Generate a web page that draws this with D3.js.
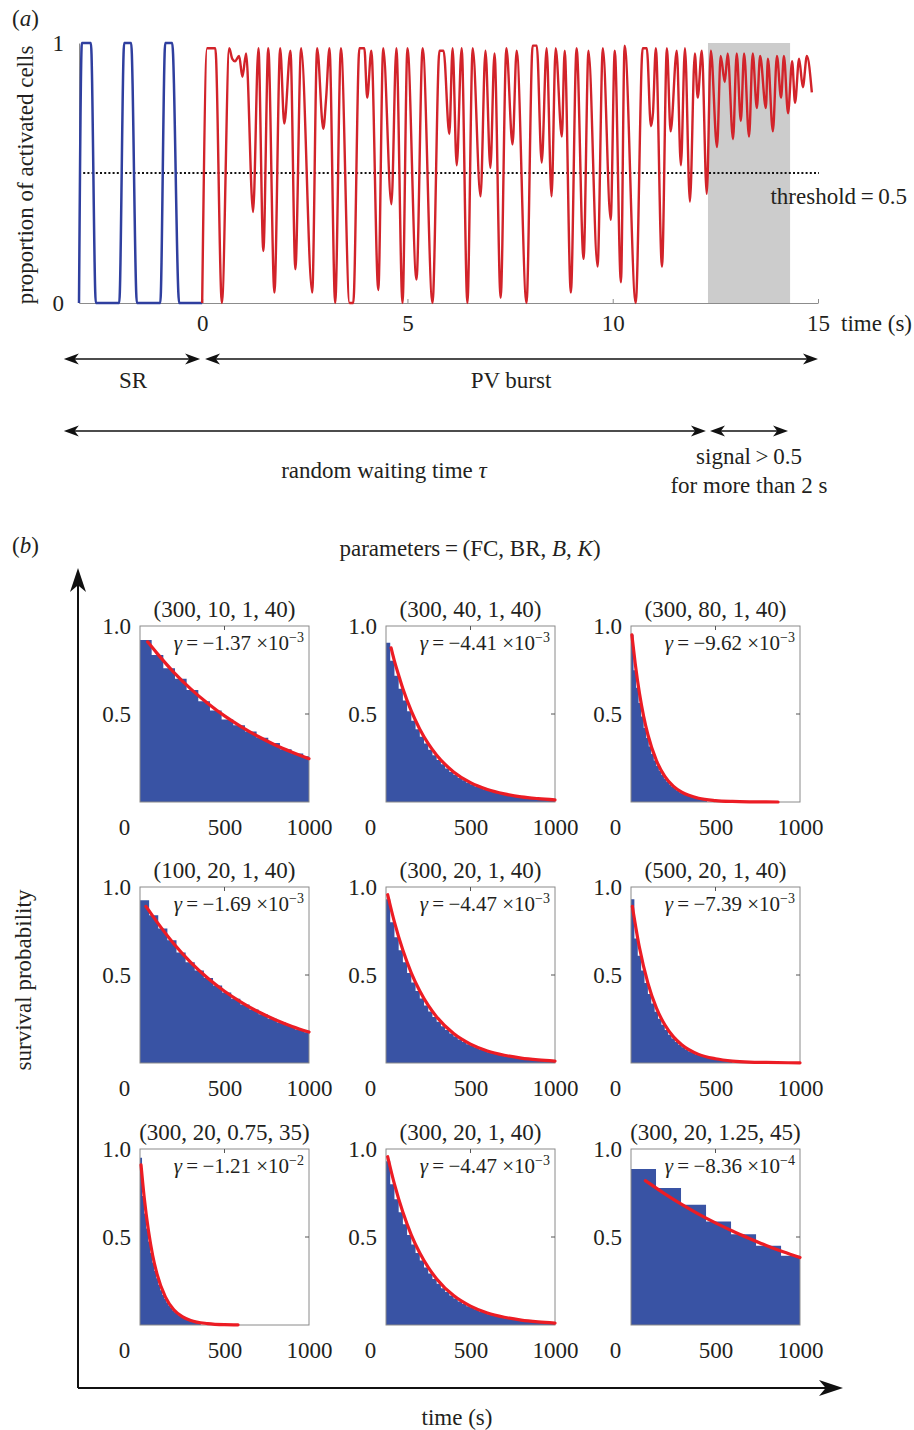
<!DOCTYPE html>
<html>
<head>
<meta charset="utf-8">
<script src="https://d3js.org/d3.v7.min.js"></script>
<style>
body { margin: 0; background: #fff; }
text { font-family: "Liberation Serif", "DejaVu Serif", serif; fill: #231f20; }
</style>
</head>
<body>
<script>
// ---- panel (a) data : proportion of activated cells over time (s) ----
var srTime  = [-3.0, -2.93, -2.71, -2.59, -2.02, -1.90, -1.73, -1.59, -1.02, -0.90, -0.73, -0.56, 0];
var srValue = [0, 1, 1, 0, 0, 1, 1, 0, 0, 1, 1, 0, 0];

var pvTime = [0, 0.12, 0.32, 0.48, 0.66, 0.73, 0.80, 0.90, 0.98, 1.07,
  1.24, 1.37, 1.49, 1.61, 1.76, 1.90, 2.00, 2.15, 2.27, 2.41,
  2.68, 2.80, 2.95, 3.02, 3.10, 3.24, 3.38, 3.59, 3.68, 3.83,
  3.95, 4.02, 4.12, 4.29, 4.41, 4.61, 4.73, 4.88, 5.00, 5.22,
  5.37, 5.61, 5.78, 5.88, 6.02, 6.10, 6.20, 6.32, 6.46, 6.59,
  6.78, 6.90, 7.02, 7.12, 7.27, 7.41, 7.56, 7.66, 7.90, 8.05,
  8.15, 8.27, 8.39, 8.51, 8.61, 8.76, 8.83, 8.98, 9.12, 9.29,
  9.41, 9.63, 9.76, 9.95, 10.05, 10.20, 10.29, 10.56, 10.73, 10.83,
  10.93, 10.98, 11.05, 11.20, 11.32, 11.41, 11.56, 11.66, 11.76, 11.88,
  12.00, 12.07, 12.17, 12.29, 12.39, 12.54, 12.63, 12.73, 12.80, 12.93,
  13.02, 13.12, 13.20, 13.32, 13.41, 13.51, 13.59, 13.73, 13.78, 13.90,
  14.00, 14.10, 14.17, 14.27, 14.37, 14.44, 14.54, 14.63, 14.73, 14.85];
var pvValue = [0, .98, .98, 0, .98, .94, .93, .95, .87, .96,
  .35, .98, .20, .98, .04, .98, .69, .97, .13, .98,
  .04, .98, .67, .79, .98, 0, .98, 0, 0, .98,
  .98, .79, .97, .05, .98, .38, .98, 0, .98, .09,
  .98, 0, .97, .97, .65, .98, .53, .98, 0, .98,
  .41, .97, .52, .96, .02, .98, .61, .97, 0, .99,
  .99, .54, .98, .41, .98, .64, .97, .04, .98, .17,
  .97, .14, .98, .32, .97, .08, .99, 0, .98, .98,
  .68, .73, .98, .14, .98, .66, .97, .53, .98, .39,
  .96, .79, .97, .42, .97, .60, .95, .85, .96, .63,
  .96, .70, .96, .64, .96, .75, .95, .75, .94, .66,
  .95, .79, .95, .73, .93, .77, .94, .83, .95, .81];

var xTicksA = [0, 5, 10, 15];
var yTicksA = [0, 1];
var threshold = 0.5;
var signalWindow = [12.32, 14.32];
// annotation arrows, in seconds
var phaseArrows = [[-3.37, -0.05, "SR"], [0.07, 15.0, "PV burst"]];
var waitArrows = [[-3.37, 12.27], [12.37, 14.27]];

// ---- panel (b) data : survival probability vs time (s) ----
var paramLabels = ["(300, 10, 1, 40)", "(300, 40, 1, 40)", "(300, 80, 1, 40)",
                   "(100, 20, 1, 40)", "(300, 20, 1, 40)", "(500, 20, 1, 40)",
                   "(300, 20, 0.75, 35)", "(300, 20, 1, 40)", "(300, 20, 1.25, 45)"];
var gammaMant = ["\u22121.37", "\u22124.41", "\u22129.62", "\u22121.69", "\u22124.47", "\u22127.39", "\u22121.21", "\u22124.47", "\u22128.36"];
var gammaExp = ["\u22123", "\u22123", "\u22123", "\u22123", "\u22123", "\u22123", "\u22122", "\u22123", "\u22124"];
var binWidths = [69, 25, 15, 54, 25, 20, 12, 25, 148];
var xTicksB = [0, 500, 1000];
var yTicksB = [0.5, 1];

var bars1 = [0.92, 0.835, 0.76, 0.70, 0.636, 0.573, 0.52, 0.469, 0.436, 0.40, 0.365, 0.335, 0.30, 0.275, 0.26];
var bars2 = [0.905, .802, .718, .643, .576, .516, .462, .414, .371, .332, .297, .266, .238, .214, .191, .171, .153, .137, .123, .110,
             .099, .088, .079, .071, .064, .057, .051, .046, .041, .037, .033, .029, .026, .024, .021, .019, .017, .015, .014, .012];
var bars3 = [0.95, .749, .649, .562, .486, .421, .364, .315, .273, .236, .204, .177, .153, .132, .115,
             .099, .086, .074, .064, .056, .048, .042, .036, .031, .027, .024, .020, .018, .015, .013];
var bars4 = [0.925, 0.84, 0.764, 0.698, 0.628, 0.572, 0.525, 0.483, 0.44, 0.40, 0.365, 0.333, 0.304, 0.277, 0.252, 0.23, 0.21, 0.19, 0.175];
var bars5 = [0.93, .80, .715, .64, .572, .511, .457, .409, .366, .327, .293, .262, .234, .209, .187, .167, .150, .134, .120, .107,
             .096, .086, .077, .068, .061, .055, .049, .044, .039, .035, .031, .028, .025, .022, .020, .018, .016, .014, .013, .011];
var bars6 = [0.93, .707, .61, .526, .454, .392, .338, .291, .251, .217, .187, .161, .139, .12, .104,
             .089, .077, .066, .057, .049, .042, .037, .032, .027, .024, .020, .018, .015, .013, .011];
var bars7 = [0.95, .733, .634, .549, .474, .41, .355, .307, .265, .229, .198, .171, .148, .128, .111,
             .096, .083, .073, .063, .054, .047, .041, .035, .030, .026, .022, .019, .017, .015, .013];
var bars8 = bars5;
var bars9 = [0.886, 0.778, 0.683, 0.588, 0.516, 0.45, 0.393];

var fit1 = [[45, 0.91], [100, 0.846], [200, 0.737], [300, 0.643], [400, 0.561], [500, 0.489], [600, 0.427], [700, 0.372], [800, 0.324], [900, 0.283], [1000, 0.246]];
var fit2 = [[30, 0.876], [50, 0.80], [75, 0.72], [100, 0.643], [150, 0.516], [200, 0.414], [250, 0.332], [300, 0.266], [400, 0.171], [500, 0.110], [600, 0.071], [700, 0.046], [800, 0.029], [900, 0.019], [1000, 0.012]];
var fit3 = [[5, 0.95], [25, 0.786], [50, 0.618], [75, 0.486], [100, 0.382], [150, 0.236], [200, 0.146], [250, 0.09], [300, 0.056], [400, 0.021], [500, 0.008], [600, 0.003], [700, 0.001], [870, 0.0]];
var fit4 = [[35, 0.89], [100, 0.802], [200, 0.678], [300, 0.572], [400, 0.483], [500, 0.408], [600, 0.345], [700, 0.291], [800, 0.246], [900, 0.208], [1000, 0.176]];
var fit5 = [[10, 0.956], [50, 0.80], [100, 0.64], [150, 0.511], [200, 0.409], [250, 0.327], [300, 0.262], [400, 0.167], [500, 0.107], [600, 0.068], [700, 0.044], [800, 0.028], [900, 0.018], [1000, 0.011]];
var fit6 = [[8, 0.89], [50, 0.656], [100, 0.454], [150, 0.313], [200, 0.217], [250, 0.15], [300, 0.104], [400, 0.049], [500, 0.024], [600, 0.011], [700, 0.005], [800, 0.003], [1000, 0.001]];
var fit7 = [[6, 0.91], [25, 0.724], [50, 0.535], [75, 0.395], [100, 0.292], [150, 0.16], [200, 0.087], [250, 0.048], [300, 0.026], [400, 0.008], [500, 0.002], [580, 0.001]];
var fit8 = fit5;
var fit9 = [[85, 0.82], [200, 0.745], [300, 0.685], [400, 0.63], [500, 0.58], [600, 0.534], [700, 0.492], [800, 0.452], [900, 0.416], [1000, 0.383]];

var barSets = [bars1, bars2, bars3, bars4, bars5, bars6, bars7, bars8, bars9];
var fitSets = [fit1, fit2, fit3, fit4, fit5, fit6, fit7, fit8, fit9];

var width = 914, height = 1430;
var svg = d3.select("body").append("svg")
  .attr("width", width)
  .attr("height", height);

function arrowHead(x, y, angle, len, half) {
  svg.append("path")
    .attr("d", "M0,0L" + (-len) + "," + (-half) + "L" + (-0.72 * len) + ",0L" + (-len) + "," + half + "Z")
    .attr("transform", "translate(" + x + "," + y + ") rotate(" + angle + ")")
    .attr("fill", "#111");
}

function doubleArrow(x1, x2, y) {
  svg.append("line")
    .attr("x1", x1 + 6).attr("x2", x2 - 6).attr("y1", y).attr("y2", y)
    .attr("stroke", "#111").attr("stroke-width", 1.3);
  arrowHead(x1, y, 180, 15, 5.5);
  arrowHead(x2, y, 0, 15, 5.5);
}

// ================= panel (a) =================
var xA = d3.scaleLinear().domain([-3, 15]).range([79, 818]);
var yA = d3.scaleLinear().domain([0, 1]).range([303, 43]);

svg.append("rect")
  .attr("x", xA(signalWindow[0]))
  .attr("y", yA(1))
  .attr("width", xA(signalWindow[1]) - xA(signalWindow[0]))
  .attr("height", yA(0) - yA(1))
  .attr("fill", "#cccccc");

var axA = svg.append("g")
  .attr("transform", "translate(0," + yA(0) + ")")
  .call(d3.axisBottom(xA).tickValues(xTicksA).tickFormat(d3.format("d")).tickSize(-4).tickSizeOuter(0).tickPadding(12));
axA.attr("font-size", 23).attr("font-family", null);
axA.select(".domain").attr("stroke", "#8c8c8c");
axA.selectAll(".tick line").attr("stroke", "#8c8c8c");

var ayA = svg.append("g")
  .attr("transform", "translate(" + xA(-3) + ",0)")
  .call(d3.axisLeft(yA).tickValues(yTicksA).tickFormat(d3.format("d")).tickSize(0).tickSizeOuter(0).tickPadding(15));
ayA.attr("font-size", 23).attr("font-family", null);
ayA.select(".domain").attr("stroke", "#8c8c8c");

svg.append("line")
  .attr("x1", xA(-3)).attr("x2", xA(15) + 1)
  .attr("y1", yA(threshold)).attr("y2", yA(threshold))
  .attr("stroke", "#111").attr("stroke-width", 2)
  .attr("stroke-dasharray", "2,2.2");

var lineA = d3.line()
  .x(function(d) { return xA(d[0]); })
  .y(function(d) { return yA(d[1]); })
  .curve(d3.curveMonotoneX);

svg.append("path")
  .attr("d", lineA(d3.zip(srTime, srValue)))
  .attr("fill", "none").attr("stroke", "#2f3f9f").attr("stroke-width", 2.5);

svg.append("path")
  .attr("d", lineA(d3.zip(pvTime, pvValue)))
  .attr("fill", "none").attr("stroke", "#d2232a").attr("stroke-width", 2.4)
  .attr("stroke-linejoin", "round");

svg.append("text").attr("x", 12).attr("y", 26).attr("font-size", 23)
  .html("(<tspan font-style='italic'>a</tspan>)");

svg.append("text")
  .attr("transform", "translate(33,175) rotate(-90)")
  .attr("text-anchor", "middle").attr("font-size", 23)
  .text("proportion of activated cells");

svg.append("text").attr("x", 907).attr("y", 204).attr("text-anchor", "end").attr("font-size", 23)
  .text("threshold\u2009=\u20090.5");

svg.append("text").attr("x", 912).attr("y", 331).attr("text-anchor", "end").attr("font-size", 23)
  .text("time (s)");

// arrows under panel (a)
phaseArrows.forEach(function(a) {
  doubleArrow(xA(a[0]), xA(a[1]), 359);
});
svg.append("text").attr("x", 133).attr("y", 388).attr("text-anchor", "middle").attr("font-size", 23).text(phaseArrows[0][2]);
svg.append("text").attr("x", 511).attr("y", 388).attr("text-anchor", "middle").attr("font-size", 23).text(phaseArrows[1][2]);

waitArrows.forEach(function(a) {
  doubleArrow(xA(a[0]), xA(a[1]), 431);
});
svg.append("text").attr("x", 384).attr("y", 478).attr("text-anchor", "middle").attr("font-size", 23)
  .html("random waiting time <tspan font-style='italic'>\u03c4</tspan>");
svg.append("text").attr("x", 749).attr("y", 464).attr("text-anchor", "middle").attr("font-size", 23)
  .text("signal\u2009>\u20090.5");
svg.append("text").attr("x", 749).attr("y", 493).attr("text-anchor", "middle").attr("font-size", 23)
  .text("for more than 2 s");

// ================= panel (b) =================
svg.append("text").attr("x", 12).attr("y", 553).attr("font-size", 23)
  .html("(<tspan font-style='italic'>b</tspan>)");
svg.append("text").attr("x", 470).attr("y", 556).attr("text-anchor", "middle").attr("font-size", 23)
  .html("parameters\u2009=\u2009(FC, BR, <tspan font-style='italic'>B</tspan>, <tspan font-style='italic'>K</tspan>)");

// big axes
svg.append("line").attr("x1", 78).attr("x2", 78).attr("y1", 1388).attr("y2", 580)
  .attr("stroke", "#111").attr("stroke-width", 2);
arrowHead(78, 568, -90, 24, 8);
svg.append("line").attr("x1", 78).attr("x2", 830).attr("y1", 1388).attr("y2", 1388)
  .attr("stroke", "#111").attr("stroke-width", 2);
arrowHead(843, 1388, 0, 24, 8);

svg.append("text")
  .attr("transform", "translate(31,980) rotate(-90)")
  .attr("text-anchor", "middle").attr("font-size", 23)
  .text("survival probability");
svg.append("text").attr("x", 457).attr("y", 1425).attr("text-anchor", "middle").attr("font-size", 23)
  .text("time (s)");

var colX = [140, 386, 631];
var rowY = [626, 887, 1149];
var pw = 169, ph = 176;

for (var i = 0; i < 9; i++) {
  var x0 = colX[i % 3];
  var y0 = rowY[Math.floor(i / 3)];
  var bars = barSets[i];
  var bin = binWidths[i];

  var xs = d3.scaleLinear().domain([0, 1000]).range([x0, x0 + pw]);
  var ys = d3.scaleLinear().domain([0, 1]).range([y0 + ph, y0]);

  var g = svg.append("g");

  // histogram of survival, drawn as one stepped area (no seams between bins)
  var steps = bars.map(function(d, k) { return [k * bin, d]; });
  steps.push([Math.min(bars.length * bin, 1000), bars[bars.length - 1]]);
  var stepArea = d3.area()
    .x(function(d) { return xs(Math.min(d[0], 1000)); })
    .y0(ys(0))
    .y1(function(d) { return ys(d[1]); })
    .curve(d3.curveStepAfter);
  g.append("path")
    .attr("d", stepArea(steps))
    .attr("fill", "#3953a4");

  // frame
  g.append("rect")
    .attr("x", x0).attr("y", y0).attr("width", pw).attr("height", ph)
    .attr("fill", "none").attr("stroke", "#8a8a8a").attr("stroke-width", 1);
  g.append("line")
    .attr("x1", xs(500)).attr("x2", xs(500)).attr("y1", y0).attr("y2", y0 + 4)
    .attr("stroke", "#555");
  g.append("line")
    .attr("x1", x0 + pw).attr("x2", x0 + pw - 4).attr("y1", ys(0.5)).attr("y2", ys(0.5))
    .attr("stroke", "#555");

  // exponential fit
  var fitLine = d3.line()
    .x(function(d) { return xs(d[0]); })
    .y(function(d) { return ys(d[1]); })
    .curve(d3.curveMonotoneX);
  g.append("path")
    .attr("d", fitLine(fitSets[i]))
    .attr("fill", "none").attr("stroke", "#ec1c24").attr("stroke-width", 3.2)
    .attr("stroke-linecap", "round");

  // axes labels
  var gx = g.append("g")
    .attr("transform", "translate(0," + (y0 + ph) + ")")
    .call(d3.axisBottom(xs).tickValues(xTicksB).tickFormat(d3.format("d")).tickSize(0).tickSizeOuter(0).tickPadding(17));
  gx.attr("font-size", 23).attr("font-family", null);
  gx.select(".domain").remove();
  gx.selectAll(".tick text").filter(function(d) { return d === 0; }).attr("x", -16);

  var gy = g.append("g")
    .attr("transform", "translate(" + x0 + ",0)")
    .call(d3.axisLeft(ys).tickValues(yTicksB).tickFormat(d3.format(".1f")).tickSize(0).tickSizeOuter(0).tickPadding(9));
  gy.attr("font-size", 23).attr("font-family", null);
  gy.select(".domain").remove();

  // title and rate
  g.append("text")
    .attr("x", x0 + pw / 2).attr("y", y0 - 9)
    .attr("text-anchor", "middle").attr("font-size", 23)
    .text(paramLabels[i]);

  var gt = g.append("text")
    .attr("x", x0 + pw - 5).attr("y", y0 + 24)
    .attr("text-anchor", "end").attr("font-size", 21);
  gt.append("tspan").attr("font-style", "italic").text("\u03b3");
  gt.append("tspan").text("\u2009=\u2009" + gammaMant[i] + " \u00d710");
  gt.append("tspan").attr("dy", -8).attr("font-size", 14).text(gammaExp[i]);
}
</script>
</body>
</html>
